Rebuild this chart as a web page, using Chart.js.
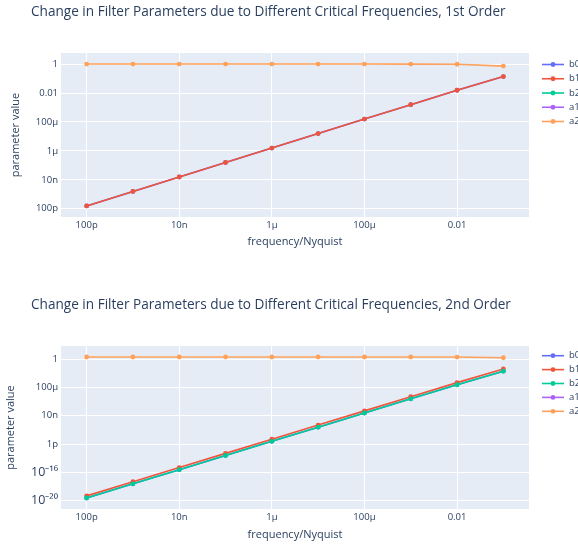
<!DOCTYPE html>
<html>
<head>
<meta charset="utf-8">
<script src="https://cdn.jsdelivr.net/npm/chart.js@4.4.1/dist/chart.umd.min.js"></script>
<style>
  html, body { margin: 0; padding: 0; background: #ffffff; }
  canvas { display: block; }
</style>
</head>
<body>
<canvas id="order1" width="578" height="273"></canvas>
<canvas id="order2" width="578" height="274"></canvas>
<script>
// Critical frequencies (normalised to Nyquist)
const freq = [1e-10, 1e-9, 1e-8, 1e-7, 1e-6, 1e-5, 1e-4, 1e-3, 1e-2, 1e-1];

const seriesNames = ['b0', 'b1', 'b2', 'a1', 'a2'];

// 1st order filter coefficients
const o1_b0 = [1.571e-10, 1.571e-9, 1.571e-8, 1.571e-7, 1.571e-6, 1.571e-5, 1.5706e-4, 1.5683e-3, 1.5466e-2, 1.3673e-1];
const o1_b1 = [1.571e-10, 1.571e-9, 1.571e-8, 1.571e-7, 1.571e-6, 1.571e-5, 1.5706e-4, 1.5683e-3, 1.5466e-2, 1.3673e-1];
const o1_b2 = [null, null, null, null, null, null, null, null, null, null];
const o1_a1 = [null, null, null, null, null, null, null, null, null, null];
const o1_a2 = [1, 1, 1, 1, 0.99999, 0.99997, 0.99969, 0.99686, 0.96907, 0.72654];

// 2nd order filter coefficients
const o2_b0 = [2.467e-20, 2.467e-18, 2.467e-16, 2.467e-14, 2.467e-12, 2.467e-10, 2.4669e-8, 2.4619e-6, 2.4136e-4, 2.0084e-2];
const o2_b1 = [4.935e-20, 4.935e-18, 4.935e-16, 4.935e-14, 4.935e-12, 4.935e-10, 4.9337e-8, 4.9239e-6, 4.8271e-4, 4.0167e-2];
const o2_b2 = [2.467e-20, 2.467e-18, 2.467e-16, 2.467e-14, 2.467e-12, 2.467e-10, 2.4669e-8, 2.4619e-6, 2.4136e-4, 2.0084e-2];
const o2_a1 = [null, null, null, null, null, null, null, null, null, null];
const o2_a2 = [2, 2, 2, 2, 2, 1.99996, 1.99956, 1.99556, 1.95558, 1.56101];

// Axis ticks
const xTickValues = [1e-10, 1e-8, 1e-6, 1e-4, 1e-2];
const xTickLabels = ['100p', '10n', '1µ', '100µ', '0.01'];
const o1_yTickValues = [1, 1e-2, 1e-4, 1e-6, 1e-8, 1e-10];
const o1_yTickLabels = ['1', '0.01', '100µ', '1µ', '10n', '100p'];
const o2_yTickValues = [1, 1e-4, 1e-8, 1e-12, 1e-16, 1e-20];
const o2_yTickLabels = ['1', '100µ', '10n', '1p', '10⁻¹⁶', '10⁻²⁰'];

const COLORS = ['#636efa', '#EF553B', '#00cc96', '#ab63fa', '#FFA15A'];
const FONT = '"Open Sans", verdana, arial, sans-serif';
const TEXT = '#2a3f5f';

// Panel background, titles and the legend column
const panelDecor = {
  id: 'panelDecor',
  beforeDraw(chart) {
    const { ctx, chartArea: a } = chart;
    ctx.save();
    ctx.fillStyle = '#E5ECF6';
    ctx.fillRect(a.left, a.top, a.right - a.left, a.bottom - a.top);
    ctx.restore();
  },
  afterDraw(chart, args, o) {
    const { ctx, chartArea: a } = chart;
    ctx.save();
    ctx.fillStyle = TEXT;
    ctx.textBaseline = 'middle';
    // title
    ctx.font = `13.6px ${FONT}`;
    ctx.textAlign = 'left';
    ctx.fillText(o.title, o.titleX, o.titleY);
    // x axis title
    ctx.font = `11px ${FONT}`;
    ctx.textAlign = 'center';
    ctx.fillText('frequency/Nyquist', (a.left + a.right) / 2, o.xTitleY);
    // y axis title
    ctx.save();
    ctx.translate(o.yTitleX, (a.top + a.bottom) / 2);
    ctx.rotate(-Math.PI / 2);
    ctx.fillText('parameter value', 0, 0);
    ctx.restore();
    // legend
    ctx.font = `9.5px ${FONT}`;
    ctx.textAlign = 'left';
    chart.data.datasets.forEach((ds, i) => {
      const y = o.legendY0 + i * o.legendStep;
      ctx.strokeStyle = ds.borderColor;
      ctx.lineWidth = 1.6;
      ctx.beginPath();
      ctx.moveTo(542, y);
      ctx.lineTo(564, y);
      ctx.stroke();
      ctx.fillStyle = ds.borderColor;
      ctx.beginPath();
      ctx.arc(553, y, 2.4, 0, Math.PI * 2);
      ctx.fill();
      ctx.fillStyle = TEXT;
      ctx.fillText(ds.label, 569, y);
    });
    ctx.restore();
  }
};

// later series are drawn over earlier ones
function makeDatasets(series) {
  return series.map((vals, i) => ({
    label: seriesNames[i],
    order: -i,
    data: freq.map((f, j) => ({ x: f, y: vals[j] })),
    borderColor: COLORS[i],
    backgroundColor: COLORS[i],
    pointBackgroundColor: COLORS[i],
    pointBorderWidth: 0,
    pointRadius: 2.4,
    borderWidth: 1.6,
    spanGaps: false
  }));
}

function makeChart(id, series, yTicks, yLabels, yRange, deco) {
  return new Chart(document.getElementById(id), {
    type: 'line',
    data: { datasets: makeDatasets(series) },
    options: {
      responsive: false,
      animation: false,
      devicePixelRatio: 1,
      layout: { padding: { left: 0, right: 49, top: deco.padTop, bottom: 0 } },
      plugins: {
        legend: { display: false },
        tooltip: { enabled: false },
        panelDecor: deco
      },
      scales: {
        x: {
          type: 'logarithmic',
          min: Math.pow(10, -10.554),
          max: Math.pow(10, -0.446),
          border: { display: false },
          grid: { color: '#ffffff', lineWidth: 1, drawTicks: false },
          afterBuildTicks: s => { s.ticks = xTickValues.map(v => ({ value: v })); },
          afterFit: s => { s.height = deco.xAxisHeight; },
          ticks: {
            autoSkip: false, maxRotation: 0, padding: 3,
            color: TEXT, font: { family: FONT, size: 9.5 },
            callback: (v, i) => xTickLabels[i]
          }
        },
        y: {
          type: 'logarithmic',
          min: Math.pow(10, yRange[0]),
          max: Math.pow(10, yRange[1]),
          border: { display: false },
          grid: { color: '#ffffff', lineWidth: 1, drawTicks: false },
          afterBuildTicks: s => { s.ticks = yTicks.map(v => ({ value: v })); },
          afterFit: s => { s.width = 61; },
          ticks: {
            autoSkip: false, padding: 3,
            color: TEXT,
            font: ctx => ({ family: FONT, size: (ctx.tick && ctx.tick.value < 1e-14) ? 12.5 : 9.5 }),
            callback: (v, i) => yLabels[i]
          }
        }
      }
    },
    plugins: [panelDecor]
  });
}

makeChart('order1', [o1_b0, o1_b1, o1_b2, o1_a1, o1_a2], o1_yTickValues, o1_yTickLabels, [-10.569, 0.765], {
  title: 'Change in Filter Parameters due to Different Critical Frequencies, 1st Order',
  titleX: 31, titleY: 12.5, xTitleY: 242, yTitleX: 16,
  legendY0: 64.5, legendStep: 14.25, padTop: 53, xAxisHeight: 56
});

makeChart('order2', [o2_b0, o2_b1, o2_b2, o2_a1, o2_a2], o2_yTickValues, o2_yTickLabels, [-21.161, 1.854], {
  title: 'Change in Filter Parameters due to Different Critical Frequencies, 2nd Order',
  titleX: 31, titleY: 32, xTitleY: 262, yTitleX: 11,
  legendY0: 82.7, legendStep: 13.9, padTop: 73, xAxisHeight: 38
});
</script>
</body>
</html>
